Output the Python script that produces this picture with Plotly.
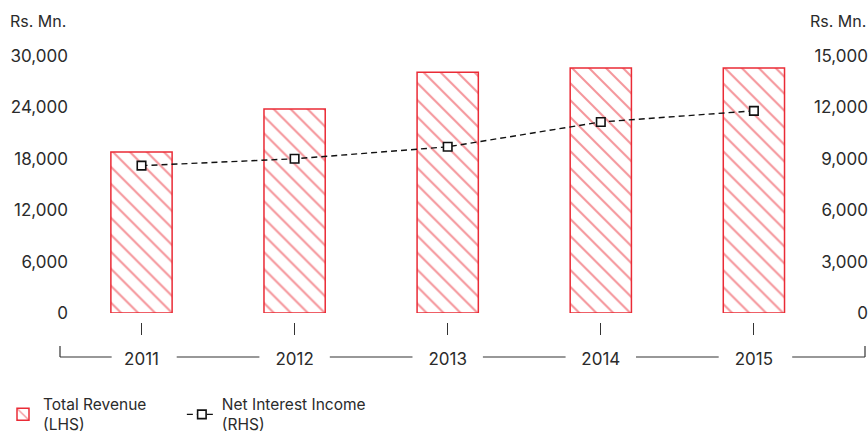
import plotly.graph_objects as go

# ---- data ----
years = ["2011", "2012", "2013", "2014", "2015"]
total_revenue = [18800, 23800, 28100, 28600, 28600]          # LHS, Rs. Mn.
net_interest_income = [8600, 9000, 9700, 11150, 11800]      # RHS, Rs. Mn.
left_ticks = [0, 6000, 12000, 18000, 24000, 30000]
right_ticks = [0, 3000, 6000, 9000, 12000, 15000]
unit_label = "Rs. Mn."
legend_names = ["Total Revenue" + "\u00a0" * 7 + "<br>(LHS)", "Net Interest Income<br>(RHS)"]

# ---- geometry / style ----
W, H = 868, 436
TOP, PLOT_BOTTOM = 56, 313
RED = "#ea2b36"
TXT = "#2b2b2b"
FONT = "Inter, Roboto, Arial, sans-serif"

x_pos = list(range(len(years)))
first_center, step = 141.5, 153.1
x_range = [(0 - first_center) / step,
           (len(years) - 1) + (W - (first_center + (len(years) - 1) * step)) / step]

paper_h = H - TOP
def py(y_px):
    return (H - y_px) / paper_h

def px_to_x(xp):
    return (xp - first_center) / step

fig = go.Figure()
fig.add_trace(go.Bar(
    x=x_pos, y=total_revenue, name=legend_names[0], width=0.4,
    marker=dict(color="white", line=dict(color=RED, width=1.5),
                pattern=dict(shape="\\", fgcolor=RED, bgcolor="white", size=12, solidity=0.17)),
    yaxis="y",
))
fig.add_trace(go.Scatter(
    x=x_pos, y=net_interest_income, name=legend_names[1], mode="lines+markers",
    line=dict(color="#111", width=1.4, dash="6px,4px"),
    marker=dict(symbol="square", size=8.5, color="white", line=dict(color="#111", width=1.6)),
    yaxis="y2",
))

# bracket style x axis baseline with gaps around labels
line_style = dict(color="#333", width=1.2)
br_y = py(357)
shapes = [
    dict(type="line", xref="x", yref="paper", x0=px_to_x(60), x1=px_to_x(60), y0=py(346), y1=br_y, line=line_style),
    dict(type="line", xref="x", yref="paper", x0=px_to_x(865), x1=px_to_x(865), y0=py(346), y1=br_y, line=line_style),
    dict(type="line", xref="x", yref="paper", x0=px_to_x(60), x1=x_pos[0] - 0.195, y0=br_y, y1=br_y, line=line_style),
    dict(type="line", xref="x", yref="paper", x0=x_pos[-1] + 0.25, x1=px_to_x(865), y0=br_y, y1=br_y, line=line_style),
]
for i in range(len(x_pos) - 1):
    shapes.append(dict(type="line", xref="x", yref="paper",
                       x0=x_pos[i] + 0.23, x1=x_pos[i + 1] - 0.23, y0=br_y, y1=br_y, line=line_style))

fig.update_layout(
    width=W, height=H,
    margin=dict(l=0, r=0, t=TOP, b=0, pad=0, autoexpand=False),
    paper_bgcolor="white", plot_bgcolor="white",
    font=dict(family=FONT, size=17, color=TXT),
    showlegend=True,
    legend=dict(orientation="h", x=3 / W, xanchor="left", y=-0.015, yanchor="bottom",
                font=dict(size=15.5, color=TXT), bgcolor="rgba(0,0,0,0)"),
    xaxis=dict(domain=[0, 1], range=x_range, tickvals=x_pos, ticktext=years,
               anchor="free", position=py(322), ticks="outside", ticklen=12, tickwidth=1.2,
               tickcolor="#333", showline=False, showgrid=False, zeroline=False, automargin=False,
               ticklabelstandoff=10, tickfont=dict(size=17, color=TXT)),
    yaxis=dict(domain=[py(PLOT_BOTTOM), 1], range=[0, 30000], tickvals=left_ticks,
               tickformat=",", anchor="free", position=68 / W, side="left", automargin=False,
               showgrid=False, zeroline=False, showline=False, ticks="",
               ticklabelstandoff=0, tickfont=dict(size=17, color=TXT)),
    yaxis2=dict(overlaying="y", range=[0, 15000], tickvals=right_ticks, tickformat=",",
                anchor="free", position=1.0, side="left", showgrid=False, zeroline=False,
                automargin=False, showline=False, ticks="", ticklabelstandoff=0,
                tickfont=dict(size=17, color=TXT)),
    shapes=shapes,
    annotations=[
        dict(text=unit_label, xref="paper", yref="paper", x=68 / W, y=py(21), xanchor="right",
             yanchor="middle", showarrow=False, font=dict(size=16, color=TXT)),
        dict(text=unit_label, xref="paper", yref="paper", x=1.0, y=py(21), xanchor="right",
             yanchor="middle", showarrow=False, font=dict(size=16, color=TXT)),
    ],
)

fig.write_html("out.html")
